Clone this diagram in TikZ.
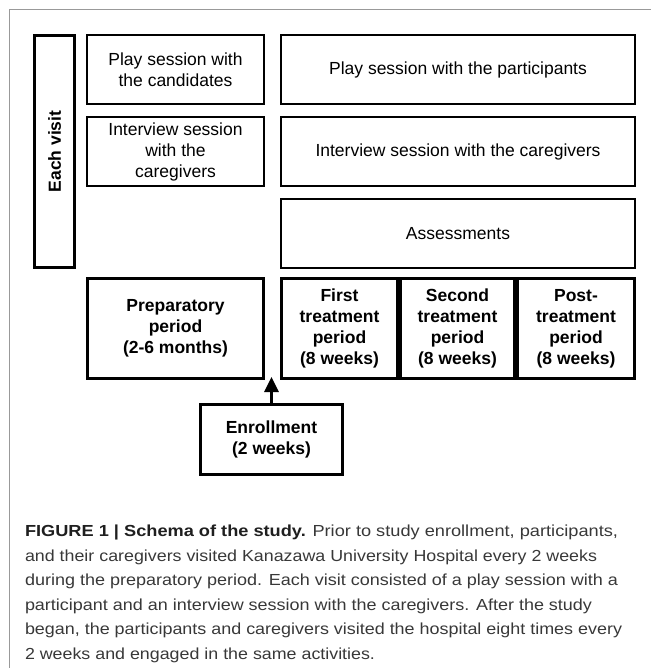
\documentclass[tikz,border=0pt]{standalone}
\usepackage{fontspec}
\setmainfont{Liberation Sans}
\usetikzlibrary{arrows.meta}
\begin{document}
\begin{tikzpicture}[x=1pt,y=-1pt,
  thinbox/.style={draw=black,line width=2pt,inner sep=0pt,outer sep=0pt,align=center,
    font=\fontsize{17.5}{21}\selectfont},
  thickbox/.style={draw=black,line width=3.2pt,inner sep=0pt,outer sep=0pt,align=center,
    font=\fontsize{17.5}{21}\selectfont\bfseries},
  capline/.style={anchor=base west,inner sep=0pt,outer sep=0pt,text=black!78,
    font=\fontsize{16}{24.5}\selectfont}]
\useasboundingbox (0,0) rectangle (651,668);
% frame
\draw[line width=1pt,black!40] (9,668) -- (9,10) -- (651,10);
% each visit
\node[thickbox,rotate=90,minimum width=231.8pt,minimum height=39.8pt] (visit) at (54.5,151.5) {Each visit};
% left column
\node[thinbox,minimum width=177pt,minimum height=69pt] (playL) at (175.5,69.5) {Play session with\\the candidates};
\node[thinbox,minimum width=177pt,minimum height=69pt] (intL) at (175.5,151.5) {Interview session\\with the\\caregivers};
% right column
\node[thinbox,minimum width=354pt,minimum height=69pt] (playR) at (458,69.5) {Play session with the participants};
\node[thinbox,minimum width=354pt,minimum height=69pt] (intR) at (458,151.5) {Interview session with the caregivers};
\node[thinbox,minimum width=354pt,minimum height=69pt] (assess) at (458,233.5) {Assessments};
% periods
\node[thickbox,minimum width=175.8pt,minimum height=99.8pt] (prep) at (175.5,328.5) {Preparatory\\period\\(2-6 months)};
\node[thickbox,minimum width=115.8pt,minimum height=99.8pt] (first) at (339.5,328.5) {First\\treatment\\period\\(8 weeks)};
\node[thickbox,minimum width=113.8pt,minimum height=99.8pt] (second) at (457.5,328.5) {Second\\treatment\\period\\(8 weeks)};
\node[thickbox,minimum width=116.8pt,minimum height=99.8pt] (post) at (576,328.5) {Post-\\treatment\\period\\(8 weeks)};
% enrollment
\node[thickbox,minimum width=141.8pt,minimum height=69.8pt] (enroll) at (271.5,439.5) {Enrollment\\(2 weeks)};
\coordinate (tip) at (271.5,377);
\draw[line width=3pt,-{Triangle[width=14pt,length=15pt]}] (enroll.north) -- (tip);
% caption
\node[capline] (c1) at (25,536.5) {\resizebox{593pt}{\height}{\textcolor{black!88}{\bfseries FIGURE 1 | Schema of the study.} Prior to study enrollment, participants,}};
\node[capline] (c2) at (25,561) {\resizebox{572pt}{\height}{and their caregivers visited Kanazawa University Hospital every 2 weeks}};
\node[capline] (c3) at (25,585.5) {\resizebox{593pt}{\height}{during the preparatory period. Each visit consisted of a play session with a}};
\node[capline] (c4) at (25,610) {\resizebox{567pt}{\height}{participant and an interview session with the caregivers. After the study}};
\node[capline] (c5) at (25,634.5) {\resizebox{597pt}{\height}{began, the participants and caregivers visited the hospital eight times every}};
\node[capline] (c6) at (25,659) {\resizebox{350pt}{\height}{2 weeks and engaged in the same activities.}};
\end{tikzpicture}
\end{document}
